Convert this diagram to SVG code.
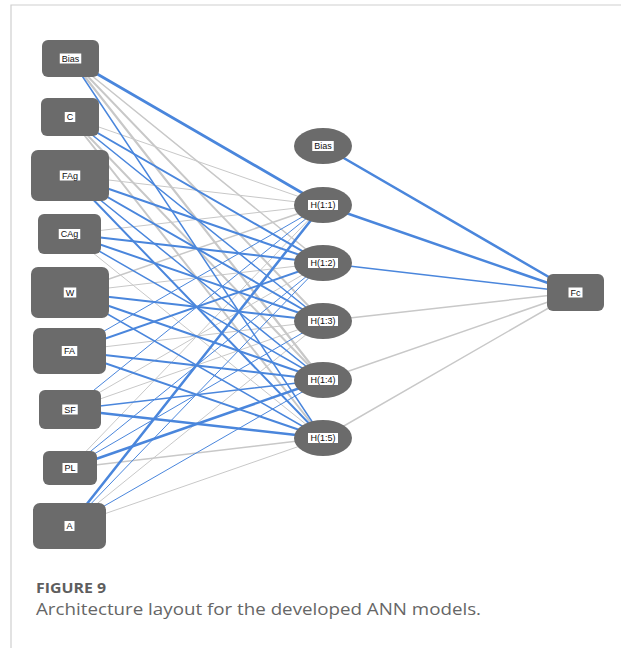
<svg xmlns="http://www.w3.org/2000/svg" width="621" height="648" viewBox="0 0 621 648">
  <style>
    .frame { fill: none; stroke: #cfcfcf; stroke-width: 1.2; }
    .node { fill: #6b6b6b; }
    .tag { fill: #ffffff; }
    .lbl { font-family: "Liberation Sans", Arial, sans-serif; font-size: 9px; fill: #111111; text-anchor: middle; }
    .pos { stroke: #4a86dc; fill: none; stroke-linecap: round; }
    .neg { stroke: #c8c8c8; fill: none; stroke-linecap: round; }
    .cap-title { font-family: "Open Sans", "Noto Sans", sans-serif; font-size: 14px; font-weight: bold; fill: #5e5e5e; }
    .cap-text { font-family: "Open Sans", "Noto Sans", sans-serif; font-size: 16px; fill: #666666; }
  </style>

  <rect x="0" y="0" width="621" height="648" fill="#ffffff"/>
  <!-- panel border -->
  <path class="frame" d="M11,648 V5 H621"/>

  <!-- weighted connections: grey = negative, blue = positive -->
  <g id="connectors">
    <g id="negative-weights">
      <line class="neg" x1="70.5" y1="58.5" x2="323" y2="263" stroke-width="1.5"/>
      <line class="neg" x1="70.5" y1="58.5" x2="323" y2="321" stroke-width="2"/>
      <line class="neg" x1="70.5" y1="58.5" x2="323" y2="380" stroke-width="2.2"/>
      <line class="neg" x1="70" y1="117" x2="323" y2="205" stroke-width="1"/>
      <line class="neg" x1="70" y1="117" x2="323" y2="380" stroke-width="2"/>
      <line class="neg" x1="70" y1="117" x2="323" y2="438" stroke-width="2"/>
      <line class="neg" x1="70" y1="175.5" x2="323" y2="205" stroke-width="1"/>
      <line class="neg" x1="69.5" y1="234" x2="323" y2="205" stroke-width="1"/>
      <line class="neg" x1="69.5" y1="234" x2="323" y2="438" stroke-width="1"/>
      <line class="neg" x1="70" y1="292.5" x2="323" y2="205" stroke-width="1.5"/>
      <line class="neg" x1="70" y1="292.5" x2="323" y2="263" stroke-width="1"/>
      <line class="neg" x1="69.5" y1="351" x2="323" y2="321" stroke-width="1"/>
      <line class="neg" x1="70" y1="409.5" x2="323" y2="263" stroke-width="1"/>
      <line class="neg" x1="70" y1="409.5" x2="323" y2="321" stroke-width="1"/>
      <line class="neg" x1="70" y1="468" x2="323" y2="205" stroke-width="1"/>
      <line class="neg" x1="70" y1="468" x2="323" y2="438" stroke-width="1.5"/>
      <line class="neg" x1="69.5" y1="526" x2="323" y2="321" stroke-width="1"/>
      <line class="neg" x1="69.5" y1="526" x2="323" y2="438" stroke-width="1"/>
      <line class="neg" x1="323" y1="321" x2="575.5" y2="292.5" stroke-width="1.5"/>
      <line class="neg" x1="323" y1="380" x2="575.5" y2="292.5" stroke-width="1.5"/>
      <line class="neg" x1="323" y1="438" x2="575.5" y2="292.5" stroke-width="1.5"/>
    </g>
    <g id="positive-weights">
      <line class="pos" x1="70.5" y1="58.5" x2="323" y2="205" stroke-width="2.8"/>
      <line class="pos" x1="70.5" y1="58.5" x2="323" y2="438" stroke-width="1.5"/>
      <line class="pos" x1="70" y1="117" x2="323" y2="263" stroke-width="2"/>
      <line class="pos" x1="70" y1="117" x2="323" y2="321" stroke-width="1.5"/>
      <line class="pos" x1="70" y1="175.5" x2="323" y2="263" stroke-width="2"/>
      <line class="pos" x1="70" y1="175.5" x2="323" y2="321" stroke-width="2"/>
      <line class="pos" x1="70" y1="175.5" x2="323" y2="380" stroke-width="1.5"/>
      <line class="pos" x1="70" y1="175.5" x2="323" y2="438" stroke-width="2"/>
      <line class="pos" x1="69.5" y1="234" x2="323" y2="263" stroke-width="2"/>
      <line class="pos" x1="69.5" y1="234" x2="323" y2="321" stroke-width="2"/>
      <line class="pos" x1="69.5" y1="234" x2="323" y2="380" stroke-width="1.5"/>
      <line class="pos" x1="70" y1="292.5" x2="323" y2="321" stroke-width="2"/>
      <line class="pos" x1="70" y1="292.5" x2="323" y2="380" stroke-width="2"/>
      <line class="pos" x1="70" y1="292.5" x2="323" y2="438" stroke-width="1.5"/>
      <line class="pos" x1="69.5" y1="351" x2="323" y2="205" stroke-width="1"/>
      <line class="pos" x1="69.5" y1="351" x2="323" y2="263" stroke-width="2"/>
      <line class="pos" x1="69.5" y1="351" x2="323" y2="380" stroke-width="2"/>
      <line class="pos" x1="69.5" y1="351" x2="323" y2="438" stroke-width="2"/>
      <line class="pos" x1="70" y1="409.5" x2="323" y2="205" stroke-width="1"/>
      <line class="pos" x1="70" y1="409.5" x2="323" y2="380" stroke-width="1.5"/>
      <line class="pos" x1="70" y1="409.5" x2="323" y2="438" stroke-width="2.5"/>
      <line class="pos" x1="70" y1="468" x2="323" y2="263" stroke-width="1"/>
      <line class="pos" x1="70" y1="468" x2="323" y2="321" stroke-width="1"/>
      <line class="pos" x1="70" y1="468" x2="323" y2="380" stroke-width="2.5"/>
      <line class="pos" x1="69.5" y1="526" x2="323" y2="205" stroke-width="2.5"/>
      <line class="pos" x1="69.5" y1="526" x2="323" y2="263" stroke-width="1"/>
      <line class="pos" x1="69.5" y1="526" x2="323" y2="380" stroke-width="1"/>
      <line class="pos" x1="323" y1="146" x2="575.5" y2="292.5" stroke-width="2.5"/>
      <line class="pos" x1="323" y1="205" x2="575.5" y2="292.5" stroke-width="2.5"/>
      <line class="pos" x1="323" y1="263" x2="575.5" y2="292.5" stroke-width="1.5"/>
    </g>
  </g>

  <!-- input layer -->
  <g id="in-bias">
    <rect class="node" x="42" y="40" width="57" height="37" rx="6"/>
    <rect class="tag" x="59.75" y="53.5" width="21.5" height="10"/>
    <text class="lbl" x="70.5" y="61.7">Bias</text>
  </g>
  <g id="in-c">
    <rect class="node" x="41" y="98" width="58" height="38" rx="6"/>
    <rect class="tag" x="64.75" y="112" width="10.5" height="10"/>
    <text class="lbl" x="70" y="120.2">C</text>
  </g>
  <g id="in-fag">
    <rect class="node" x="31" y="150" width="78" height="51" rx="7"/>
    <rect class="tag" x="59.75" y="170.5" width="20.5" height="10"/>
    <text class="lbl" x="70" y="178.7">FAg</text>
  </g>
  <g id="in-cag">
    <rect class="node" x="38" y="214" width="63" height="40" rx="6"/>
    <rect class="tag" x="58.75" y="229" width="21.5" height="10"/>
    <text class="lbl" x="69.5" y="237.2">CAg</text>
  </g>
  <g id="in-w">
    <rect class="node" x="31" y="267" width="78" height="51" rx="7"/>
    <rect class="tag" x="63.75" y="287.5" width="12.5" height="10"/>
    <text class="lbl" x="70" y="295.7">W</text>
  </g>
  <g id="in-fa">
    <rect class="node" x="33" y="328" width="73" height="46" rx="7"/>
    <rect class="tag" x="61.75" y="346" width="15.5" height="10"/>
    <text class="lbl" x="69.5" y="354.2">FA</text>
  </g>
  <g id="in-sf">
    <rect class="node" x="39" y="390" width="62" height="39" rx="6"/>
    <rect class="tag" x="62.25" y="404.5" width="15.5" height="10"/>
    <text class="lbl" x="70" y="412.7">SF</text>
  </g>
  <g id="in-pl">
    <rect class="node" x="43" y="451" width="54" height="34" rx="6"/>
    <rect class="tag" x="62.5" y="463" width="15" height="10"/>
    <text class="lbl" x="70" y="471.2">PL</text>
  </g>
  <g id="in-a">
    <rect class="node" x="33" y="503" width="73" height="46" rx="7"/>
    <rect class="tag" x="64.5" y="521" width="10" height="10"/>
    <text class="lbl" x="69.5" y="529.2">A</text>
  </g>

  <!-- hidden layer -->
  <g id="hid-bias">
    <ellipse class="node" cx="323" cy="146" rx="29" ry="18"/>
    <rect class="tag" x="312.25" y="141" width="21.5" height="10"/>
    <text class="lbl" x="323" y="149.2">Bias</text>
  </g>
  <g id="h1">
    <ellipse class="node" cx="323" cy="205" rx="29" ry="18"/>
    <rect class="tag" x="308" y="200" width="30" height="10"/>
    <text class="lbl" x="323" y="208.2">H(1:1)</text>
  </g>
  <g id="h2">
    <ellipse class="node" cx="323" cy="263" rx="29" ry="18"/>
    <rect class="tag" x="308" y="258" width="30" height="10"/>
    <text class="lbl" x="323" y="266.2">H(1:2)</text>
  </g>
  <g id="h3">
    <ellipse class="node" cx="323" cy="321" rx="29" ry="18"/>
    <rect class="tag" x="308" y="316" width="30" height="10"/>
    <text class="lbl" x="323" y="324.2">H(1:3)</text>
  </g>
  <g id="h4">
    <ellipse class="node" cx="323" cy="380" rx="29" ry="18"/>
    <rect class="tag" x="308" y="375" width="30" height="10"/>
    <text class="lbl" x="323" y="383.2">H(1:4)</text>
  </g>
  <g id="h5">
    <ellipse class="node" cx="323" cy="438" rx="29" ry="18"/>
    <rect class="tag" x="308" y="433" width="30" height="10"/>
    <text class="lbl" x="323" y="441.2">H(1:5)</text>
  </g>

  <!-- output layer -->
  <g id="out-fc">
    <rect class="node" x="547" y="274" width="57" height="37" rx="6"/>
    <rect class="tag" x="568.5" y="287.5" width="14" height="10"/>
    <text class="lbl" x="575.5" y="295.7">Fc</text>
  </g>

  <!-- caption -->
  <text class="cap-title" x="36" y="593" textLength="70" lengthAdjust="spacingAndGlyphs">FIGURE 9</text>
  <text class="cap-text" x="36" y="615" textLength="445" lengthAdjust="spacingAndGlyphs">Architecture layout for the developed ANN models.</text>
</svg>
